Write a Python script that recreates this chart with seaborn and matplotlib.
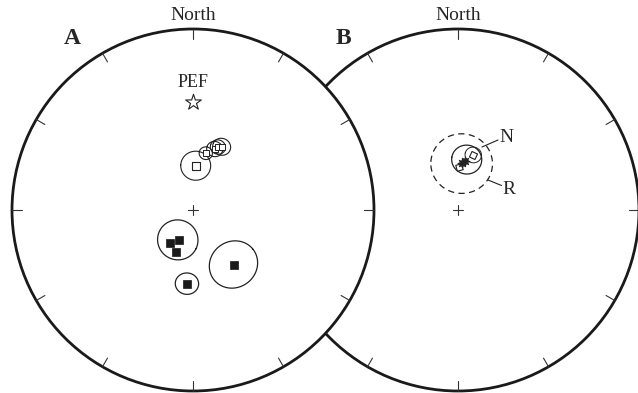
import numpy as np
import pandas as pd
import matplotlib
matplotlib.use("Agg")
import matplotlib.pyplot as plt
import seaborn as sns

# ---------------- data (declination / inclination, degrees) ----------------
# Panel A
pef_dec, pef_inc = [0.0], [40.1]                      # PEF reference pole (star)
a_open_dec = [3.5, 12.7, 19.6, 21.6, 24.4]            # open squares
a_open_inc = [70.0, 63.7, 60.7, 59.3, 58.5]
a_open_a95 = [6.6, 2.9, 3.5, 3.3, 3.9]
a_fill_dec = [215.1, 205.5, 202.5, 143.4, 184.7]      # filled squares
a_fill_inc = [72.0, 75.1, 69.7, 59.1, 56.4]
a_circ_dec = [207.0, 143.4, 184.7]                    # confidence circles of filled means
a_circ_inc = [74.9, 59.1, 56.4]
a_circ_a95 = [9.0, 10.7, 5.0]
# Panel B
b_sq_dec = [15.5, 1.3]
b_sq_inc = [64.2, 70.5]
b_star_dec = [8.1, 4.9]
b_star_inc = [67.6, 68.8]
b_N_dec, b_N_inc, b_N_a95 = 9.8, 66.9, 6.6            # N mean
b_R_dec, b_R_inc, b_R_a95 = 4.5, 68.9, 13.6           # R mean (dashed)
b_small_dec, b_small_inc, b_small_a95 = [15.5], [64.2], [3.6]

# ---------------- layout ----------------
W, H = 638, 393
R = 181.0
CA = (193.0, 210.0)
CB = (458.0, 210.0)

sns.set_theme(style="white")
plt.rcParams["font.family"] = ["Liberation Serif", "DejaVu Serif"]

fig = plt.figure(figsize=(W / 100, H / 100), dpi=100)
ax = fig.add_axes([0, 0, 1, 1])
ax.set_xlim(0, W)
ax.set_ylim(H, 0)
ax.set_aspect("equal")
ax.axis("off")


def vec(dec, inc):
    d, i = np.radians(dec), np.radians(inc)
    return np.array([np.cos(i) * np.cos(d), np.cos(i) * np.sin(d), np.sin(i)])


def proj_vec(v, c):
    x, y, z = v
    z = np.abs(z)
    h = np.hypot(x, y)
    r = np.sqrt(1 - z)
    h = np.where(h == 0, 1, h)
    return c[0] + R * r * y / h, c[1] - R * r * x / h


def proj(dec, inc, c):
    v = vec(np.asarray(dec, float), np.asarray(inc, float))
    return proj_vec(v, c)


def small_circle(dec, inc, a95, c, n=120):
    m = vec(dec, inc)
    u = np.cross(m, [0, 0, 1.0])
    if np.linalg.norm(u) < 1e-6:
        u = np.array([1.0, 0, 0])
    u /= np.linalg.norm(u)
    w = np.cross(m, u)
    t = np.linspace(0, 2 * np.pi, n)
    a = np.radians(a95)
    pts = (np.cos(a) * m[:, None] + np.sin(a) * (np.cos(t) * u[:, None] + np.sin(t) * w[:, None]))
    return proj_vec(pts, c)


def net(c, z):
    circ = plt.Circle(c, R, facecolor="white", edgecolor="#1a1a1a", lw=2.0, zorder=z)
    ax.add_patch(circ)
    for az in range(0, 360, 30):
        s, co = np.sin(np.radians(az)), np.cos(np.radians(az))
        ax.plot([c[0] + R * s, c[0] + (R - 10) * s], [c[1] - R * co, c[1] - (R - 10) * co],
                color="#333333", lw=0.8, zorder=z + 0.1)
    ax.plot([c[0] - 5, c[0] + 5], [c[1], c[1]], color="#333333", lw=0.8, zorder=z + 0.1)
    ax.plot([c[0], c[0]], [c[1] - 5, c[1] + 5], color="#333333", lw=0.8, zorder=z + 0.1)
    ax.text(c[0], c[1] - R - 5, "North", ha="center", va="bottom", fontsize=14, zorder=z + 0.1)


# ---------------- panel B (behind) ----------------
net(CB, 1)
zb = 1.5
x, y = small_circle(b_N_dec, b_N_inc, b_N_a95, CB)
ax.plot(x, y, color="#222222", lw=0.9, zorder=zb)
x, y = small_circle(b_R_dec, b_R_inc, b_R_a95, CB)
ax.plot(x, y, color="#222222", lw=0.9, ls=(0, (5, 3.5)), zorder=zb)
for d, i, a in zip(b_small_dec, b_small_inc, b_small_a95):
    x, y = small_circle(d, i, a, CB)
    ax.plot(x, y, color="#222222", lw=0.7, zorder=zb)
bx, by = proj(b_sq_dec, b_sq_inc, CB)
ax.scatter(bx[:1], by[:1], marker=(4, 0, 20), s=38, facecolors="white", edgecolors="#222222", lw=0.8, zorder=zb + 0.1)
ax.scatter(bx[1:], by[1:], marker=(4, 0, 60), s=38, facecolors="white", edgecolors="#222222", lw=0.8, zorder=zb + 0.1)
sx, sy = proj(b_star_dec, b_star_inc, CB)
dfb = pd.DataFrame({"x": sx, "y": sy})
sns.scatterplot(data=dfb, x="x", y="y", marker=(8, 1, 0), s=45, color="#222222", edgecolor="#222222",
                linewidth=0.6, ax=ax, zorder=zb + 0.2, legend=False)
# labels N and R with leaders
ax.plot([482, 498], [147, 140], color="#222222", lw=0.8, zorder=zb)
ax.plot([488, 501.5], [180, 185.5], color="#222222", lw=0.8, zorder=zb)
ax.text(499, 137, "N", fontsize=14, ha="left", va="center", zorder=zb)
ax.text(502, 189, "R", fontsize=14, ha="left", va="center", zorder=zb)
ax.text(343, 38, "B", fontsize=17, fontweight="bold", ha="center", va="center", zorder=zb)

# ---------------- panel A (front) ----------------
net(CA, 3)
za = 3.5
for d, i, a in zip(a_open_dec, a_open_inc, a_open_a95):
    x, y = small_circle(d, i, a, CA)
    ax.plot(x, y, color="#222222", lw=0.8, zorder=za)
for d, i, a in zip(a_circ_dec, a_circ_inc, a_circ_a95):
    x, y = small_circle(d, i, a, CA)
    ax.plot(x, y, color="#222222", lw=0.9, zorder=za)

ox, oy = proj(a_open_dec, a_open_inc, CA)
ax.scatter(ox[:1], oy[:1], marker="s", s=30, facecolors="white", edgecolors="#222222", lw=0.8, zorder=za + 0.1)
ax.scatter(ox[1:], oy[1:], marker="s", s=14, facecolors="white", edgecolors="#222222", lw=0.7, zorder=za + 0.1)

fx, fy = proj(a_fill_dec, a_fill_inc, CA)
dfa = pd.DataFrame({"x": fx, "y": fy})
sns.scatterplot(data=dfa, x="x", y="y", marker="s", s=36, color="#1a1a1a", edgecolor="#1a1a1a",
                linewidth=0.5, ax=ax, zorder=za + 0.2, legend=False)

px, py = proj(pef_dec, pef_inc, CA)
ax.scatter(px, py, marker="*", s=140, facecolors="white", edgecolors="#222222", lw=0.8, zorder=za + 0.2)
ax.text(px[0], py[0] - 11, "PEF", fontsize=13, ha="center", va="bottom", zorder=za + 0.2)
ax.text(72, 38, "A", fontsize=17, fontweight="bold", ha="center", va="center", zorder=za)

ax.set_xlim(0, W)
ax.set_ylim(H, 0)
ax.set_xlabel("")
ax.set_ylabel("")
fig.savefig("out.png", dpi=100, facecolor="white")
